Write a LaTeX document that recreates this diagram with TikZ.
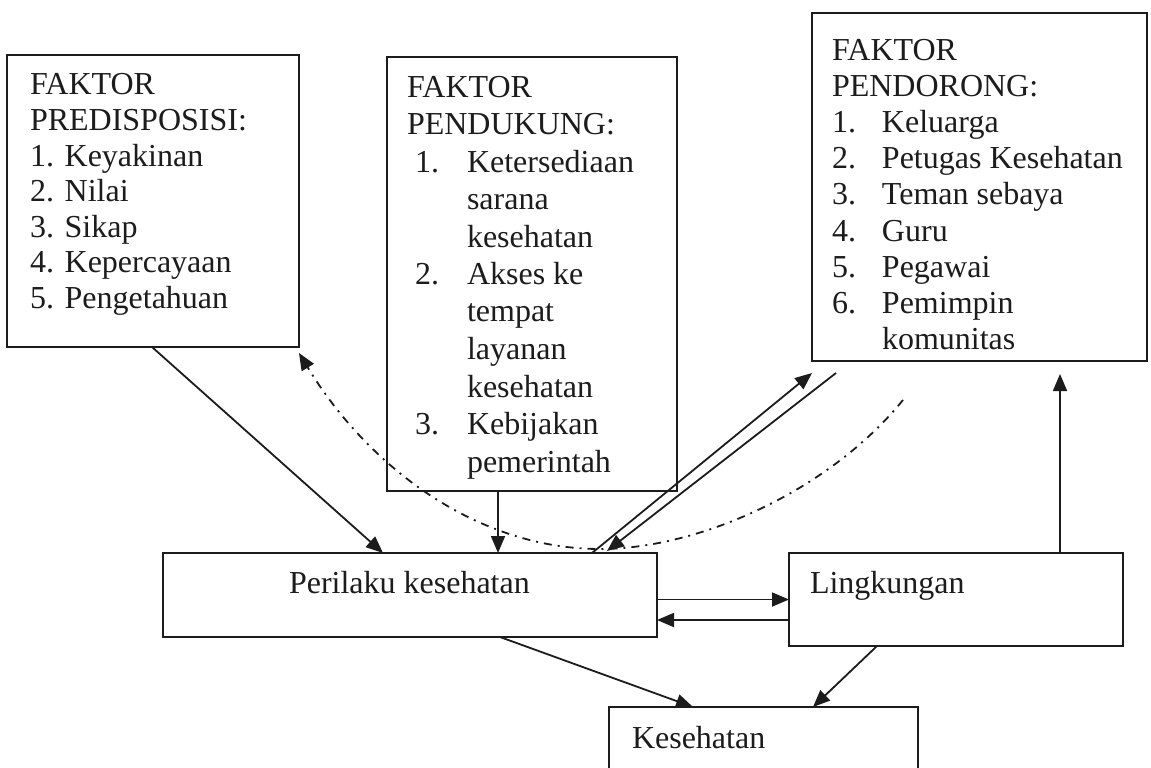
\documentclass[tikz,border=0pt]{standalone}
\usepackage{fontspec}
\setmainfont{Liberation Serif}
\usetikzlibrary{arrows.meta}
\definecolor{ink}{RGB}{28,28,28}
\begin{document}
\begin{tikzpicture}[x=1pt,y=-1pt,
  box/.style={draw=ink, line width=1.8pt, rectangle, inner sep=0pt, outer sep=0pt},
  txt/.style={anchor=base west, inner sep=0pt, outer sep=0pt, text=ink, font=\fontsize{32}{37}\selectfont},
  arr/.style={draw=ink, line width=1.8pt, -{Triangle[length=17pt,width=14pt]}},
  dd/.style={draw=ink, line width=1.8pt, dash pattern=on 8pt off 6pt on 2pt off 6pt, -{Triangle[length=17pt,width=14pt]}}]
\clip (0,0) rectangle (1151,768);
\fill[white] (0,0) rectangle (1151,768);

% boxes
\node[box, minimum width=292pt, minimum height=292pt] (A) at (153,201) {};
\node[box, minimum width=290pt, minimum height=434pt] (B) at (532,274) {};
\node[box, minimum width=335pt, minimum height=348pt] (C) at (979.5,187) {};
\node[box, minimum width=494pt, minimum height=84pt] (D) at (410,595) {};
\node[box, minimum width=334pt, minimum height=93pt] (E) at (956,599.5) {};
\node[box, minimum width=309pt, minimum height=83pt] (F) at (763.5,748.5) {};

% texts
\node[txt] (tA) at (30,95) {\parbox[t]{268pt}{\fontsize{32}{35.6}\selectfont
FAKTOR\\PREDISPOSISI:\\1. Keyakinan\\2. Nilai\\3. Sikap\\4. Kepercayaan\\5. Pengetahuan}};
\node[txt] (tB) at (407,97) {\parbox[t]{268pt}{\fontsize{32}{37.5}\selectfont
FAKTOR\\PENDUKUNG:\\
\hspace*{8pt}\makebox[52pt][l]{1.}Ketersediaan\\
\hspace*{60pt}sarana\\
\hspace*{60pt}kesehatan\\
\hspace*{8pt}\makebox[52pt][l]{2.}Akses ke\\
\hspace*{60pt}tempat\\
\hspace*{60pt}layanan\\
\hspace*{60pt}kesehatan\\
\hspace*{8pt}\makebox[52pt][l]{3.}Kebijakan\\
\hspace*{60pt}pemerintah}};
\node[txt] (tC) at (832,60) {\parbox[t]{310pt}{\fontsize{32}{36.2}\selectfont
FAKTOR\\PENDORONG:\\
\makebox[50pt][l]{1.}Keluarga\\
\makebox[50pt][l]{2.}Petugas Kesehatan\\
\makebox[50pt][l]{3.}Teman sebaya\\
\makebox[50pt][l]{4.}Guru\\
\makebox[50pt][l]{5.}Pegawai\\
\makebox[50pt][l]{6.}Pemimpin\\
\hspace*{50pt}komunitas}};
\node[txt] (tD) at (289,593) {Perilaku kesehatan};
\node[txt] (tE) at (810,593) {Lingkungan};
\node[txt] (tF) at (632,748) {Kesehatan};

% connectors
\draw[arr] ([xshift=145pt]A.south west) -- ([xshift=220pt]D.north west);
\draw[arr] ([xshift=111pt]B.south west) -- ([xshift=335pt]D.north west);
\draw[arr] ([xshift=429pt]D.north west) -- ([yshift=-12pt]C.south west);
\draw[arr] ([xshift=24pt,yshift=-12pt]C.south west) -- ([xshift=444pt,yshift=2pt]D.north west);
\draw[arr] ([yshift=-4.5pt]D.east) -- (E.west);
\draw[arr] ([yshift=-20.5pt]E.west) -- ([yshift=-25pt]D.east);
\draw[arr] ([xshift=271pt]E.north west) -- ([xshift=248pt,yshift=-13pt]C.south west);
\draw[arr] ([xshift=337pt]D.south west) -- ([xshift=84pt]F.north west);
\draw[arr] ([xshift=88pt]E.south west) -- ([xshift=204pt]F.north west);

\coordinate (cs) at (903,400);
\draw[dd] (cs) .. controls (830,490) and (700,549) .. (600,549)
  .. controls (480,549) and (370,470) .. ([yshift=-6pt]A.south east);
\end{tikzpicture}
\end{document}
